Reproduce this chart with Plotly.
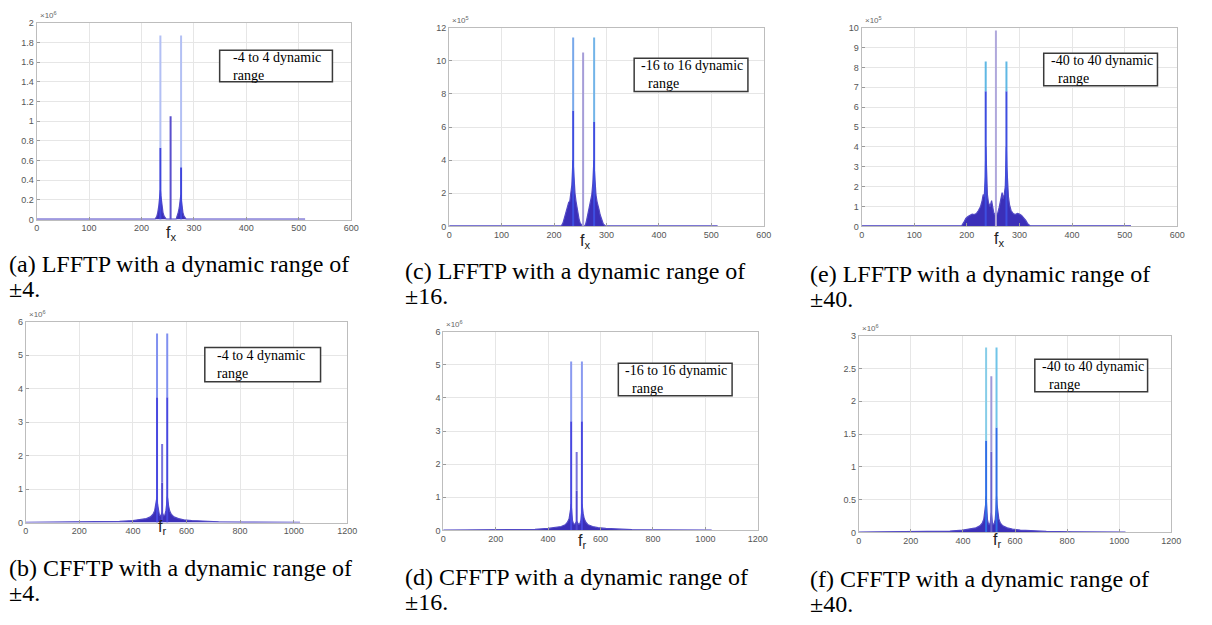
import plotly.graph_objects as go
from plotly.subplots import make_subplots

W, H = 1212, 625

## Data
# (a) LFFTP, dynamic range +/-4 (amplitude x1e6)
a_env_x = [0, 226, 229, 231, 233, 235, 236, 237, 239, 241, 243, 245, 247,
           266, 268, 270, 272, 274, 275, 276, 277, 279, 281, 283, 285, 512]
a_env_y = [0.004, 0.004, 0.03, 0.07, 0.14, 0.24, 0.3, 0.24, 0.14, 0.07, 0.035, 0.012, 0.004,
           0.004, 0.03, 0.07, 0.12, 0.2, 0.25, 0.2, 0.13, 0.07, 0.035, 0.012, 0.004, 0.004]
a_spk_x = [236, 255.5, 275.5]
a_spk_mid = [0.73, 1.05, 0.53]
a_spk_top = [1.87, 1.05, 1.87]

# (c) LFFTP, dynamic range +/-16 (x1e5)
c_env_x = [0, 214, 217, 220, 223, 226, 228, 230, 232, 234, 235, 236, 237, 238, 240, 242, 244,
           246, 248, 250, 252, 254, 258, 260, 262, 264, 266, 268, 270, 272, 274, 275, 276, 277,
           278, 280, 282, 284, 286, 288, 291, 294, 298, 512]
c_env_y = [0.03, 0.03, 0.2, 0.5, 0.85, 1.2, 1.45, 1.5, 1.9, 2.5, 3.2, 4.0, 3.6, 2.8, 2.0, 1.5, 1.1,
           0.7, 0.4, 0.2, 0.08, 0.03, 0.03, 0.1, 0.35, 0.7, 1.1, 1.4, 1.55, 1.9, 2.6, 3.5, 4.0, 3.4,
           2.6, 1.9, 1.5, 1.3, 1.0, 0.7, 0.4, 0.15, 0.03, 0.03]
c_spk_x = [236.5, 255.5, 276.5]
c_spk_mid = [7.0, 10.5, 6.3]
c_spk_top = [11.4, 10.5, 11.4]

# (e) LFFTP, dynamic range +/-40 (x1e5)
e_env_x = [0, 190, 194, 198, 202, 206, 210, 214, 218, 222, 226, 229, 231, 233, 235, 236, 237,
           239, 241, 244, 247, 249, 251, 253, 255, 257, 259, 261, 263, 265, 267, 269, 271, 273,
           275, 276, 277, 279, 281, 284, 288, 292, 296, 300, 304, 308, 312, 316, 320, 512]
e_env_y = [0.03, 0.03, 0.2, 0.4, 0.5, 0.58, 0.62, 0.6, 0.65, 0.8, 1.0, 1.3, 1.6, 1.5, 2.5, 4.0, 2.8,
           1.6, 1.2, 1.0, 1.3, 0.9, 0.7, 0.6, 0.65, 0.6, 0.7, 0.9, 1.2, 1.5, 1.7, 1.4, 1.6, 2.0,
           4.0, 3.0, 2.2, 1.5, 1.1, 0.8, 0.65, 0.6, 0.65, 0.62, 0.55, 0.45, 0.3, 0.12, 0.03, 0.03]
e_spk_x = [235.8, 255.2, 275.2]
e_spk_mid = [6.8, 9.85, 6.8]
e_spk_top = [8.3, 9.85, 8.3]

# (b) CFFTP, dynamic range +/-4 (x1e6)
b_env_x = [0, 100, 200, 300, 350, 400, 430, 450, 465, 475, 481, 485, 488, 490, 492, 495, 499,
           503, 506, 509, 512, 515, 519, 523, 526, 528, 530, 533, 537, 543, 553, 570, 590, 620,
           670, 720, 820, 920, 1024]
b_env_y = [0.01, 0.012, 0.016, 0.025, 0.035, 0.06, 0.085, 0.12, 0.17, 0.25, 0.35, 0.5, 0.7, 0.78,
           0.55, 0.35, 0.22, 0.2, 0.25, 0.3, 0.25, 0.2, 0.22, 0.35, 0.55, 0.78, 0.7, 0.5, 0.35,
           0.25, 0.17, 0.12, 0.085, 0.06, 0.035, 0.025, 0.016, 0.012, 0.01]
b_spk_x = [490, 509, 528]
b_spk_mid = [3.75, 1.2, 3.75]
b_spk_top = [5.65, 2.35, 5.65]

# (d) CFFTP, dynamic range +/-16 (x1e6)
d_env_x = [0, 100, 200, 300, 350, 400, 430, 450, 465, 474, 480, 484, 487, 488, 490, 493, 497,
           501, 505, 509, 513, 517, 521, 525, 528, 529, 531, 534, 538, 544, 553, 570, 590, 620,
           670, 720, 820, 920, 1024]
d_env_y = [0.01, 0.012, 0.016, 0.025, 0.035, 0.06, 0.085, 0.12, 0.17, 0.25, 0.35, 0.5, 0.7, 0.8,
           0.55, 0.3, 0.2, 0.18, 0.22, 0.28, 0.22, 0.18, 0.2, 0.3, 0.55, 0.8, 0.7, 0.5, 0.35,
           0.25, 0.17, 0.12, 0.085, 0.06, 0.035, 0.025, 0.016, 0.012, 0.01]
d_spk_x = [488, 509, 529]
d_spk_mid = [3.3, 1.2, 3.3]
d_spk_top = [5.1, 2.37, 5.1]

# (f) CFFTP, dynamic range +/-40 (x1e6)
f_env_x = [0, 100, 200, 300, 350, 400, 430, 450, 465, 474, 480, 484, 487, 489, 491, 494, 498,
           502, 505, 509, 513, 516, 520, 524, 527, 529, 531, 534, 538, 544, 553, 570, 590, 620,
           670, 720, 820, 920, 1024]
f_env_y = [0.006, 0.007, 0.01, 0.015, 0.02, 0.035, 0.05, 0.07, 0.1, 0.14, 0.2, 0.3, 0.42, 0.55,
           0.35, 0.2, 0.13, 0.12, 0.15, 0.3, 0.15, 0.12, 0.13, 0.2, 0.35, 0.55, 0.42, 0.3, 0.2,
           0.14, 0.1, 0.07, 0.05, 0.035, 0.02, 0.015, 0.01, 0.007, 0.006]
f_spk_x = [489, 509, 529]
f_spk_mid = [1.4, 1.23, 1.6]
f_spk_top = [2.82, 2.38, 2.82]

# axis ticks
lf_xticks = [0, 100, 200, 300, 400, 500, 600]
cf_xticks = [0, 200, 400, 600, 800, 1000, 1200]
a_yticks = [0, 0.2, 0.4, 0.6, 0.8, 1, 1.2, 1.4, 1.6, 1.8, 2]
c_yticks = [0, 2, 4, 6, 8, 10, 12]
e_yticks = [0, 1, 2, 3, 4, 5, 6, 7, 8, 9, 10]
bd_yticks = [0, 1, 2, 3, 4, 5, 6]
f_yticks = [0, 0.5, 1, 1.5, 2, 2.5, 3]

captions = {
    "a": ["(a) LFFTP with a dynamic range of", "\u00b14."],
    "b": ["(b) CFFTP with a dynamic range of", "\u00b14."],
    "c": ["(c) LFFTP with a dynamic range of", "\u00b116."],
    "d": ["(d) CFFTP with a dynamic range of", "\u00b116."],
    "e": ["(e) LFFTP with a dynamic range of", "\u00b140."],
    "f": ["(f) CFFTP with a dynamic range of", "\u00b140."],
}
box_text = {
    "a": ["-4 to 4 dynamic", "range"],
    "b": ["-4 to 4 dynamic", "range"],
    "c": ["-16 to 16 dynamic", "\u00a0\u00a0range"],
    "d": ["-16 to 16 dynamic", "\u00a0\u00a0range"],
    "e": ["-40 to 40 dynamic", "\u00a0\u00a0range"],
    "f": ["-40 to 40 dynamic", "\u00a0\u00a0range"],
}

## Layout of each panel (pixel boxes)
panels = [
    dict(key="a", row=1, col=1, box=(34, 18, 352, 218), env=(a_env_x, a_env_y),
         spk=(a_spk_x, a_spk_mid, a_spk_top), xt=lf_xticks, yt=a_yticks, exp="6", lab="x",
         lab_xy=(170, 232), tbox=(219, 46, 333, 78), tx=230, cap=(4, 263, 289),
         col_lo=["#3f46dc", "#5a4fcc", "#3f46dc"], col_hi=["#b3c0f4", "#5a4fcc", "#b3c0f4"]),
    dict(key="c", row=1, col=2, box=(451, 23, 769, 225), env=(c_env_x, c_env_y),
         spk=(c_spk_x, c_spk_mid, c_spk_top), xt=lf_xticks, yt=c_yticks, exp="5", lab="x",
         lab_xy=(588, 240), tbox=(638, 54, 753, 88), tx=643, cap=(404, 270, 296),
         col_lo=["#3e4ee0", "#a59dd8", "#3e4ee0"], col_hi=["#78a8ea", "#a59dd8", "#72b4e8"]),
    dict(key="e", row=1, col=3, box=(868, 23, 1187, 225), env=(e_env_x, e_env_y),
         spk=(e_spk_x, e_spk_mid, e_spk_top), xt=lf_xticks, yt=e_yticks, exp="5", lab="x",
         lab_xy=(1007, 238), tbox=(1052, 49, 1167, 82), tx=1057, cap=(814, 273, 299),
         col_lo=["#3e4ee0", "#b0a8dc", "#3e4ee0"], col_hi=["#5fb8e4", "#b0a8dc", "#5fb8e4"]),
    dict(key="b", row=2, col=1, box=(23, 322, 348, 526), env=(b_env_x, b_env_y),
         spk=(b_spk_x, b_spk_mid, b_spk_top), xt=cf_xticks, yt=bd_yticks, exp="6", lab="r",
         lab_xy=(161, 531), tbox=(204, 348, 321, 383), tx=214, cap=(4, 572, 598),
         col_lo=["#4848e0", "#5048d0", "#4848e0"], col_hi=["#8090f0", "#7a74dc", "#8090f0"]),
    dict(key="d", row=2, col=2, box=(445, 332, 763, 534), env=(d_env_x, d_env_y),
         spk=(d_spk_x, d_spk_mid, d_spk_top), xt=cf_xticks, yt=bd_yticks, exp="6", lab="r",
         lab_xy=(585, 545), tbox=(622, 364, 737, 397), tx=627, cap=(404, 581, 607),
         col_lo=["#4848e0", "#5048d0", "#4848e0"], col_hi=["#8a9af0", "#7a74dc", "#8a9af0"]),
    dict(key="f", row=2, col=3, box=(865, 336, 1181, 536), env=(f_env_x, f_env_y),
         spk=(f_spk_x, f_spk_mid, f_spk_top), xt=cf_xticks, yt=f_yticks, exp="6", lab="r",
         lab_xy=(1005, 544), tbox=(1043, 360, 1157, 393), tx=1048, cap=(814, 583, 609),
         col_lo=["#2f6fe6", "#6a62cc", "#2f6fe6"], col_hi=["#86cde8", "#a099d8", "#70c4e8"]),
]

fig = make_subplots(rows=2, cols=3)

def px_x(v):
    return v / W

def px_y(v):
    return 1 - v / H

annotations = []
shapes = []
for p in panels:
    r, c = p["row"], p["col"]
    ex, ey = p["env"]
    fig.add_trace(go.Scatter(x=ex, y=ey, mode="lines", fill="tozeroy",
                             line=dict(color="#5249c6", width=1.2), fillcolor="#3b2fb8",
                             hoverinfo="skip", showlegend=False), row=r, col=c)
    sx, smid, stop = p["spk"]
    for k in range(len(sx)):
        fig.add_trace(go.Scatter(x=[sx[k], sx[k]], y=[0, smid[k]], mode="lines",
                                 line=dict(color=p["col_lo"][k], width=2),
                                 hoverinfo="skip", showlegend=False), row=r, col=c)
        if stop[k] > smid[k]:
            fig.add_trace(go.Scatter(x=[sx[k], sx[k]], y=[smid[k], stop[k]], mode="lines",
                                     line=dict(color=p["col_hi"][k], width=2),
                                     hoverinfo="skip", showlegend=False), row=r, col=c)

    l, t, rr, b = p["box"]
    axis_style = dict(showgrid=True, gridcolor="#e6e6e6", gridwidth=1, zeroline=False,
                      showline=True, linecolor="#bdbdbd", linewidth=1, mirror=True,
                      ticks="inside", ticklen=3, tickcolor="#9a9a9a",
                      tickfont=dict(family="Liberation Sans", size=9, color="#555555"))
    fig.update_xaxes(domain=[px_x(l), px_x(rr)], range=[0, p["xt"][-1]],
                     tickvals=p["xt"], ticktext=[str(v) for v in p["xt"]],
                     row=r, col=c, **axis_style)
    fig.update_yaxes(domain=[px_y(b), px_y(t)], range=[0, p["yt"][-1]],
                     tickvals=p["yt"], ticktext=[f"{v:g}" for v in p["yt"]],
                     row=r, col=c, **axis_style)

    # exponent label
    annotations.append(dict(text="\u00d710<sup>" + p["exp"] + "</sup>", xref="paper", yref="paper",
                            x=px_x(l + 1), y=px_y(t - 1), xanchor="left", yanchor="bottom",
                            showarrow=False, font=dict(family="Liberation Sans", size=8, color="#666666")))
    # axis label
    lx, ly = p["lab_xy"]
    annotations.append(dict(text="f<sub>" + p["lab"] + "</sub>", xref="paper", yref="paper",
                            x=px_x(lx), y=px_y(ly), xanchor="center", yanchor="middle",
                            showarrow=False, font=dict(family="Liberation Sans", size=16, color="#222222")))
    # text box
    bl, bt, br, bb = p["tbox"]
    shapes.append(dict(type="rect", xref="paper", yref="paper",
                       x0=px_x(bl), x1=px_x(br), y0=px_y(bb), y1=px_y(bt),
                       line=dict(color="#3a3a3a", width=1.5), fillcolor="white"))
    t1, t2 = box_text[p["key"]]
    annotations.append(dict(text=t1 + "<br>" + t2, xref="paper", yref="paper",
                            x=px_x(p["tx"]), y=px_y((bt + bb) / 2), xanchor="left", yanchor="middle",
                            align="left", showarrow=False,
                            font=dict(family="Liberation Serif", size=14, color="black")))
    # caption
    cx, cy1, cy2 = p["cap"]
    c1, c2 = captions[p["key"]]
    for txt, cy in ((c1, cy1), (c2, cy2)):
        annotations.append(dict(text=txt, xref="paper", yref="paper", x=px_x(cx), y=px_y(cy),
                                xanchor="left", yanchor="middle", showarrow=False,
                                font=dict(family="Liberation Serif", size=24, color="black")))

fig.update_layout(width=W, height=H, margin=dict(l=0, r=0, t=0, b=0),
                  paper_bgcolor="white", plot_bgcolor="white",
                  annotations=annotations, shapes=shapes, showlegend=False)

# page body has a default 8px margin: remove it so the figure fills the window
fig.write_html("out.html", config={"displayModeBar": False},
               post_script="document.body.style.margin='0';")
